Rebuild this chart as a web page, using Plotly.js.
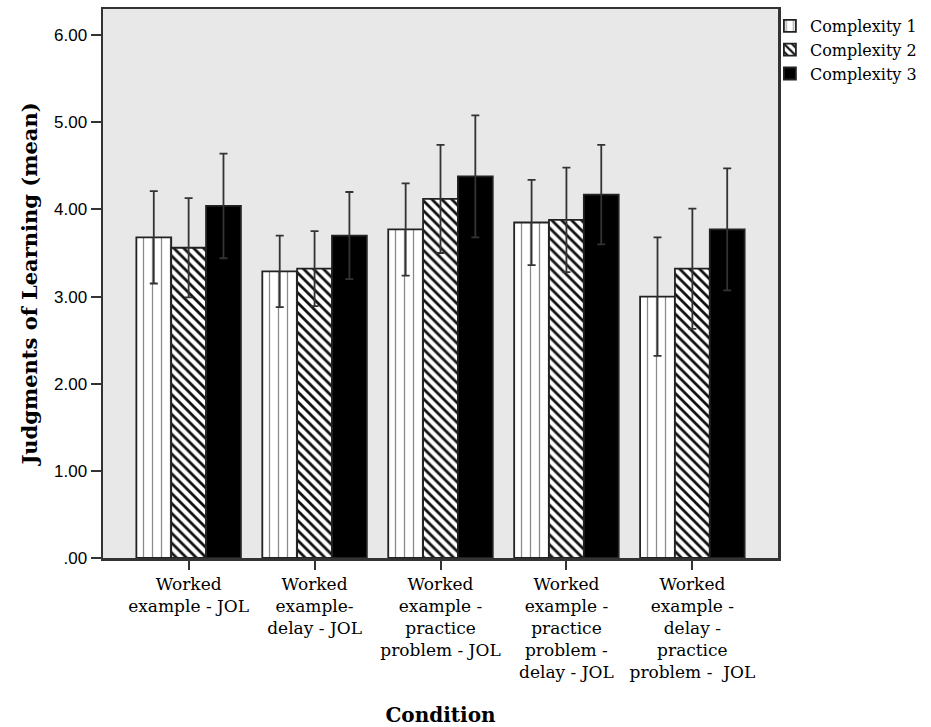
<!DOCTYPE html>
<html>
<head>
<meta charset="utf-8">
<script src="https://cdn.plot.ly/plotly-3.0.1.min.js"></script>
<style>html,body{margin:0;padding:0;background:#fff;}#chart{width:931px;height:727px;}</style>
</head>
<body>
<div id="chart"></div>
<script>
var categories = [
  "Worked<br>example - JOL",
  "Worked<br>example-<br>delay - JOL",
  "Worked<br>example -<br>practice<br>problem - JOL",
  "Worked<br>example -<br>practice<br>problem -<br>delay - JOL",
  "Worked<br>example -<br>delay -<br>practice<br>problem -  JOL"
];
var seriesNames = ["Complexity 1", "Complexity 2", "Complexity 3"];
var complexity1 = [3.68, 3.29, 3.77, 3.85, 3.00];
var complexity2 = [3.56, 3.32, 4.12, 3.88, 3.32];
var complexity3 = [4.04, 3.70, 4.38, 4.17, 3.77];
var err1 = [0.53, 0.41, 0.53, 0.49, 0.68];
var err2 = [0.57, 0.43, 0.62, 0.60, 0.69];
var err3 = [0.60, 0.50, 0.70, 0.57, 0.70];
var yTickVals = [0, 1, 2, 3, 4, 5, 6];
var yTickText = [".00", "1.00", "2.00", "3.00", "4.00", "5.00", "6.00"];

var serif = "DejaVu Serif, serif";
function errStyle(arr) {
  return {type: "data", array: arr, visible: true, color: "#333", thickness: 1.8, width: 4};
}
var traces = [
  {type: "bar", name: seriesNames[0], x: categories, y: complexity1, error_y: errStyle(err1),
   marker: {color: "#ffffff", line: {color: "#222", width: 1.8},
            pattern: {shape: "|", fgcolor: "#8a8a8a", bgcolor: "#ffffff", size: 9, solidity: 0.14}}},
  {type: "bar", name: seriesNames[1], x: categories, y: complexity2, error_y: errStyle(err2),
   marker: {color: "#ffffff", line: {color: "#222", width: 1.8},
            pattern: {shape: "\\", fgcolor: "#111", bgcolor: "#ffffff", size: 7, solidity: 0.4}}},
  {type: "bar", name: seriesNames[2], x: categories, y: complexity3, error_y: errStyle(err3),
   marker: {color: "#000000", line: {color: "#222", width: 1.8}}}
];
var layout = {
  width: 931, height: 727,
  margin: {l: 103, r: 148, t: 9, b: 169},
  paper_bgcolor: "#ffffff",
  plot_bgcolor: "#e8e8e8",
  barmode: "group",
  bargap: 0.17,
  bargroupgap: 0,
  showlegend: true,
  legend: {x: 0.988, y: 1.0, xanchor: "left", yanchor: "top", bgcolor: "rgba(0,0,0,0)",
           font: {family: serif, size: 16, color: "#000"}, tracegroupgap: 0, itemwidth: 30},
  xaxis: {
    range: [-0.68, 4.68],
    showline: true, linecolor: "#333", linewidth: 2.5, mirror: true,
    ticks: "outside", ticklen: 9, tickcolor: "#333", tickwidth: 2,
    tickfont: {family: serif, size: 17, color: "#000"},
    title: {text: "<b>Condition</b>", font: {family: serif, size: 20, color: "#000"}, standoff: 28},
    automargin: false
  },
  yaxis: {
    range: [0, 6.3], tickvals: yTickVals, ticktext: yTickText,
    showline: true, linecolor: "#333", linewidth: 2.5, mirror: true, showgrid: false, zeroline: false,
    ticks: "outside", ticklen: 10, tickcolor: "#333", tickwidth: 2,
    tickfont: {family: "Liberation Sans, Arial, sans-serif", size: 17, color: "#000"},
    title: {text: "<b>Judgments of Learning (mean)</b>", font: {family: serif, size: 21, color: "#000"}, standoff: 11},
    automargin: false
  }
};
Plotly.newPlot("chart", traces, layout, {displayModeBar: false, staticPlot: true});
</script>
</body>
</html>
